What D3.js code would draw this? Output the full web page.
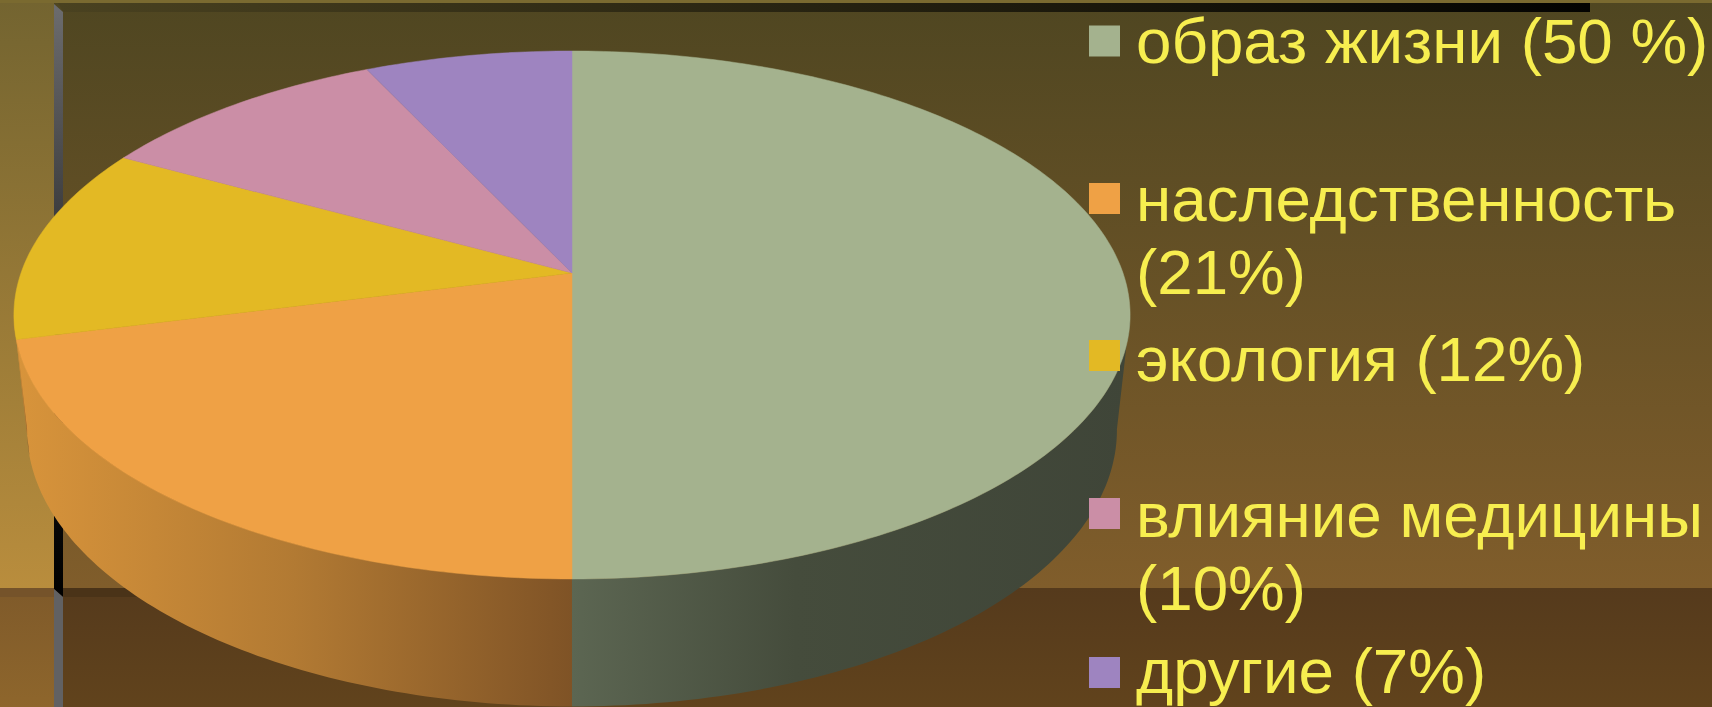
<!DOCTYPE html>
<html><head><meta charset="utf-8">
<script src="https://cdn.jsdelivr.net/npm/d3@7"></script>
<style>html,body{margin:0;padding:0;background:#000;overflow:hidden}svg{display:block}</style>
</head><body><svg id="c" width="1712" height="707"></svg>
<script>
const categories = ["образ жизни (50 %)","наследственность (21%)","экология (12%)","влияние медицины (10%)","другие (7%)"];
const values = [50,21,12,10,7];
const legendLines = [["образ жизни (50 %)"],["наследственность","(21%)"],["экология (12%)"],["влияние медицины","(10%)"],["другие (7%)"]];
const colors = ["#a4b28e","#efa145","#e3b924","#cb8ea6","#9e84c0"];

const svg = d3.select("#c"), defs = svg.append("defs");
function grad(id, stops, x1=0,y1=0,x2=0,y2=1){
  const g = defs.append("linearGradient").attr("id",id).attr("x1",x1).attr("y1",y1).attr("x2",x2).attr("y2",y2);
  stops.forEach(s=>g.append("stop").attr("offset",s[0]).attr("stop-color",s[1]));
}
defs.append("filter").attr("id","soft").append("feGaussianBlur").attr("stdDeviation",0.5);
grad("leftUp",[[0,"#736430"],[1,"#b98d3d"]]);
grad("leftLow",[[0,"#7f5a2a"],[1,"#8e662c"]]);
grad("mainUp",[[0,"#4f4621"],[1,"#805d2b"]]);
grad("mainLow",[[0,"#553a1c"],[1,"#61431c"]]);
grad("stripV",[[0,"#6c6c6e"],[0.3,"#454547"],[0.7,"#111"],[1,"#000"]]);
grad("stripH",[[0,"#4a4220"],[1,"#030301"]],0,0,1,0);
grad("wallGreen",[[0,"#5c6652"],[0.4,"#454c3c"],[1,"#3f4538"]],0,0,1,0);
grad("wallOrange",[[0,"#d8943b"],[0.5,"#b27a33"],[1,"#7f5326"]],0,0,1,0);
const wallFill = ["url(#wallGreen)","url(#wallOrange)","url(#wallOrange)"];

const rect=(x,y,w,h,f)=>svg.append("rect").attr("x",x).attr("y",y).attr("width",w).attr("height",h).attr("fill",f);
rect(0,0,1712,588,"url(#mainUp)");
rect(0,588,1712,119,"url(#mainLow)");
rect(0,0,54,588,"url(#leftUp)");
rect(0,588,54,119,"url(#leftLow)");
rect(0,0,1712,3,"#7a6a30");
svg.append("path").attr("d","M58,3H1590V12H63Z").attr("fill","url(#stripH)");
rect(63,588,350,9,"#4a3318");
rect(0,588,54,9,"#75532a");
svg.append("path").attr("d","M54,4L63,12V597L54,589Z").attr("fill","url(#stripV)");
svg.append("path").attr("d","M54,589L63,597V707H54Z").attr("fill","#616163");

// perspective view of the disc: disc coordinates -> screen
const k=-0.159, cx=572;
const face = {a:551,b:257.3,y0:273}, base={a:538,b:269.5,y0:386};
const proj=(th,p)=>{const u=Math.sin(th),v=-Math.cos(th),w=1+k*v;return [cx+p.a*u/w,p.y0+p.b*v/w];};
const rim=(s,e,p)=>{const n=Math.max(2,Math.ceil(Math.abs(e-s)*60));return d3.range(n+1).map(i=>proj(s+(e-s)*i/n,p));};
const line=d3.line();
const arcs=d3.pie().sort(null).value(d=>d).startAngle(0).endAngle(2*Math.PI)(values);

// walls
const visS=99*Math.PI/180, visE=261*Math.PI/180;
arcs.forEach((d,i)=>{
  const s=Math.max(d.startAngle,visS), e=Math.min(d.endAngle,visE);
  if(e<=s) return;
  svg.append("path").attr("d",line(rim(s,e,face).concat(rim(e,s,base)))+"Z").attr("fill",wallFill[i]);
});
// top face
arcs.forEach((d,i)=>{
  svg.append("path").attr("d",line([[cx,face.y0]].concat(rim(d.startAngle,d.endAngle,face)))+"Z").attr("fill",colors[i]).attr("stroke",colors[i]).attr("stroke-width",0.5);
});

// legend
const ly=[25.5,183,340,498,657];
const baselines=[[62.5],[221,293.5],[381],[537,609.5],[693]];
categories.forEach((c,i)=>{
  rect(1089,ly[i],31,31,colors[i]);
  legendLines[i].forEach((t,j)=>{
    svg.append("text").attr("x",1136).attr("y",baselines[i][j]).attr("font-family","'Liberation Sans',Arial,sans-serif")
      .attr("font-size",63.7).attr("fill","#f7ee50").attr("filter","url(#soft)").text(t);
  });
});
</script></body></html>
